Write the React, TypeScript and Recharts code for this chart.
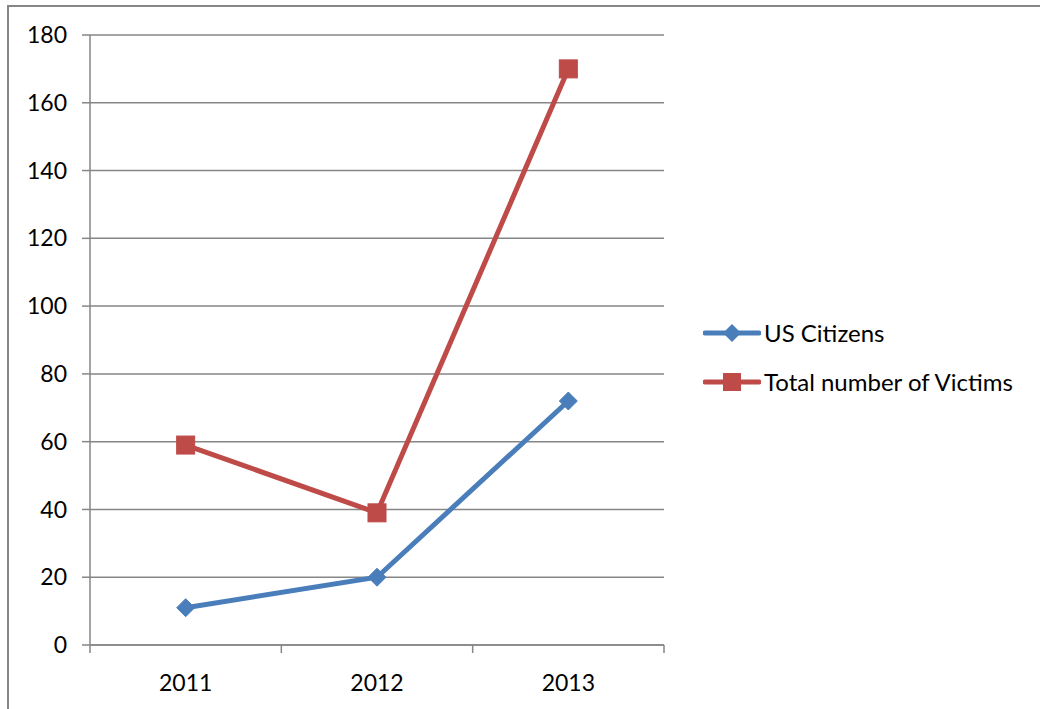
import { LineChart, Line, XAxis, YAxis, CartesianGrid } from "recharts";

const years = ["2011", "2012", "2013"];
const usCitizens = [11, 20, 72];
const totalVictims = [59, 39, 170];
const yTicks = [0, 20, 40, 60, 80, 100, 120, 140, 160, 180];

const BLUE = "#4a7ebb";
const RED = "#be4b48";
const GRID = "#868686";
const FONT = "Lato, 'Open Sans', sans-serif";

const data = years.map((year, i) => ({
  pos: i + 0.5,
  year,
  us: usCitizens[i],
  total: totalVictims[i]
}));

const xTicks: number[] = [];
for (let i = 0; i <= years.length; i++) {
  xTicks.push(i);
  if (i < years.length) xTicks.push(i + 0.5);
}

function XTick(props: any) {
  const { x, y, payload } = props;
  const v = payload.value as number;
  if (Number.isInteger(v)) {
    return <line x1={x} x2={x} y1={y} y2={y + 8} stroke={GRID} strokeWidth={1.5} />;
  }
  const label = years[Math.floor(v)];
  return (
    <text x={x} y={y + 46} textAnchor="middle" fontSize={23} fontFamily={FONT} fill="#000">
      {label}
    </text>
  );
}

function Diamond(props: any) {
  const { cx, cy } = props;
  if (cx == null || cy == null) return null;
  const r = 9;
  return (
    <path
      d={`M${cx},${cy - r} L${cx + r},${cy} L${cx},${cy + r} L${cx - r},${cy} Z`}
      fill={BLUE}
      stroke={BLUE}
      strokeWidth={1}
    />
  );
}

function Square(props: any) {
  const { cx, cy } = props;
  if (cx == null || cy == null) return null;
  const s = 9;
  return <rect x={cx - s} y={cy - s} width={s * 2} height={s * 2} fill={RED} stroke={RED} strokeWidth={1} />;
}

function LegendIcon({ color, shape }: { color: string; shape: "diamond" | "square" }) {
  return (
    <svg width={58} height={20} style={{ display: "block" }}>
      <line x1={2} x2={56} y1={10} y2={10} stroke={color} strokeWidth={5} strokeLinecap="round" />
      {shape === "diamond" ? (
        <path d="M29,1 L38,10 L29,19 L20,10 Z" fill={color} />
      ) : (
        <rect x={20} y={1} width={18} height={18} fill={color} />
      )}
    </svg>
  );
}

const legendItems = [
  { name: "US Citizens", color: BLUE, shape: "diamond" as const },
  { name: "Total number of Victims", color: RED, shape: "square" as const }
];

export default function App() {
  return (
    <div
      style={{
        position: "absolute",
        left: 7,
        top: 5,
        width: 1040,
        height: 710,
        borderLeft: `2px solid ${GRID}`,
        borderTop: `2px solid ${GRID}`,
        background: "#fff",
        fontFamily: FONT
      }}
    >
      <LineChart width={1030} height={700} data={data} margin={{ top: 28, right: 375, left: 0, bottom: 0 }}>
        <CartesianGrid vertical={false} stroke={GRID} strokeWidth={1.5} />
        <XAxis
          dataKey="pos"
          type="number"
          domain={[0, years.length]}
          ticks={xTicks}
          interval={0}
          height={62}
          tickLine={false}
          tickSize={0}
          tickMargin={0}
          axisLine={{ stroke: GRID, strokeWidth: 1.5 }}
          tick={<XTick />}
        />
        <YAxis
          domain={[0, 180]}
          ticks={yTicks}
          interval={0}
          width={81}
          tickSize={8}
          tickMargin={15}
          tickLine={{ stroke: GRID, strokeWidth: 1.5 }}
          axisLine={{ stroke: GRID, strokeWidth: 1.5 }}
          tick={{ fontSize: 23, fontFamily: FONT, fill: "#000" }}
        />
        <Line
          dataKey="us"
          name="US Citizens"
          stroke={BLUE}
          strokeWidth={5}
          dot={<Diamond />}
          activeDot={false}
          isAnimationActive={false}
        />
        <Line
          dataKey="total"
          name="Total number of Victims"
          stroke={RED}
          strokeWidth={5}
          dot={<Square />}
          activeDot={false}
          isAnimationActive={false}
        />
      </LineChart>
      <div style={{ position: "absolute", left: 694, top: 301 }}>
        {legendItems.map((item) => (
          <div key={item.name} style={{ display: "flex", alignItems: "center", height: 49 }}>
            <LegendIcon color={item.color} shape={item.shape} />
            <span style={{ fontSize: 24, color: "#000", marginLeft: 3, lineHeight: "24px" }}>{item.name}</span>
          </div>
        ))}
      </div>
    </div>
  );
}
